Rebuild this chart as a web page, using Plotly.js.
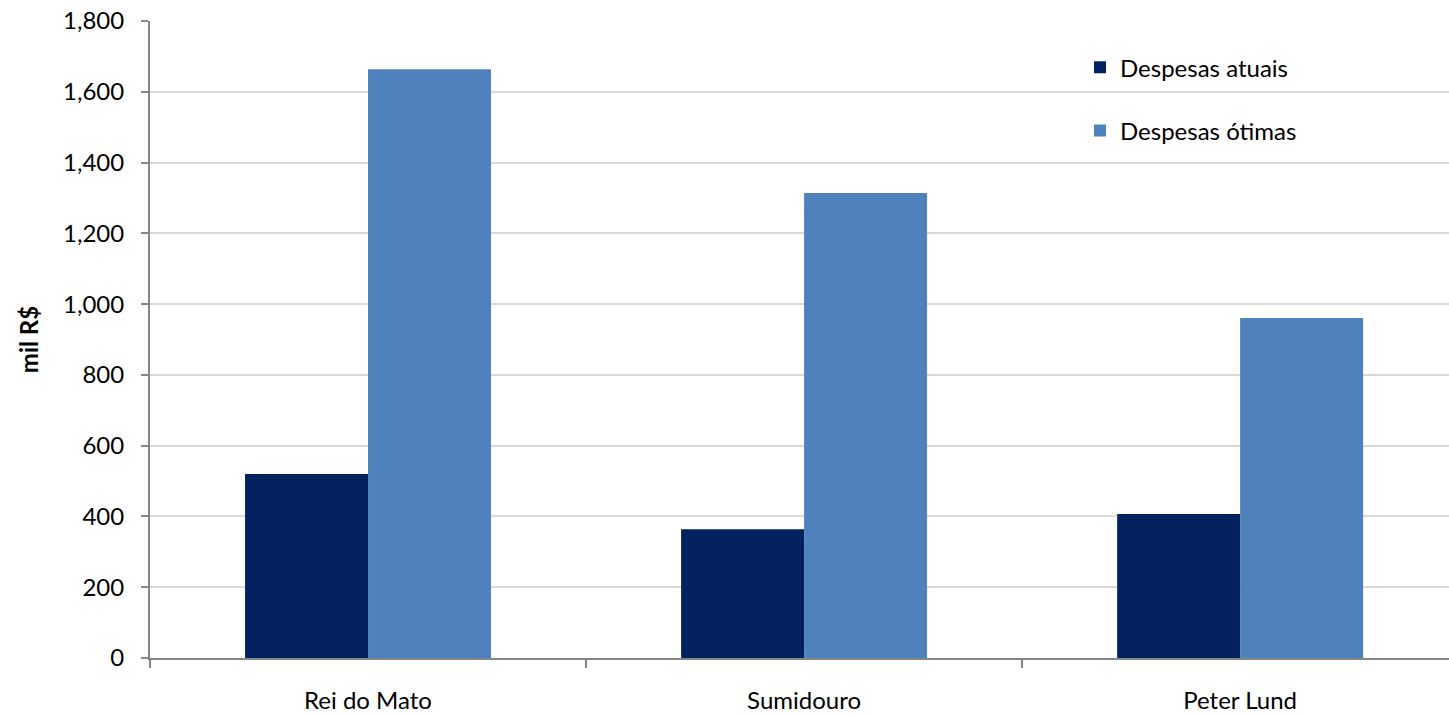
<!DOCTYPE html>
<html>
<head>
<meta charset="utf-8">
<script src="https://cdn.plot.ly/plotly-3.0.1.min.js"></script>
<style>
html,body{margin:0;padding:0;overflow:hidden;background:#fff;}
#chart{width:1449px;height:716px;}
</style>
</head>
<body>
<div id="chart"></div>
<script>
const categories = ["Rei do Mato", "Sumidouro", "Peter Lund"];
const despesasAtuais = [520, 364, 407];
const despesasOtimas = [1664, 1314, 961];
const seriesNames = ["Despesas atuais", "Despesas ótimas"];
const yTickVals = [0, 200, 400, 600, 800, 1000, 1200, 1400, 1600, 1800];
const yTickText = ["0", "200", "400", "600", "800", "1,000", "1,200", "1,400", "1,600", "1,800"];

const FONT = "Lato, 'Open Sans', 'Liberation Sans', sans-serif";

const traces = [
  {type: "bar", name: seriesNames[0], x: categories, y: despesasAtuais,
   marker: {color: "#03215F"}, legendgroup: "a"},
  {type: "bar", name: seriesNames[1], x: categories, y: despesasOtimas,
   marker: {color: "#4F81BD"}, legendgroup: "b"}
];

const layout = {
  width: 1449, height: 716,
  margin: {l: 150, r: 0, t: 21, b: 58},
  paper_bgcolor: "#ffffff", plot_bgcolor: "#ffffff",
  font: {family: FONT, size: 24, color: "#000000"},
  barmode: "group",
  bargap: 0.436,
  bargroupgap: 0,
  showlegend: true,
  legend: {xref: "paper", y: 0.962, yanchor: "top",
           font: {family: FONT, size: 24, color: "#000"},
           traceorder: "grouped", tracegroupgap: 29,
           bgcolor: "rgba(0,0,0,0)"},
  xaxis: {
    type: "category",
    range: [-0.5, 2.479],
    showgrid: false,
    showline: true, linecolor: "#868686", linewidth: 2,
    ticks: "outside", tickson: "boundaries", ticklen: 8, tickwidth: 2, tickcolor: "#868686",
    tickfont: {family: FONT, size: 24, color: "#000"},
    ticklabelstandoff: 20,
    fixedrange: true
  },
  yaxis: {
    range: [0, 1800],
    tickvals: yTickVals, ticktext: yTickText,
    showgrid: true, gridcolor: "#D9D9D9", gridwidth: 2,
    zeroline: false,
    showline: true, linecolor: "#868686", linewidth: 2,
    ticks: "outside", ticklen: 7, tickwidth: 2, tickcolor: "#868686",
    tickfont: {family: FONT, size: 24, color: "#000"},
    ticklabelstandoff: 12,
    title: {text: "<b>mil R$</b>", font: {family: FONT, size: 24, color: "#000"}, standoff: 18},
    fixedrange: true
  }
};
layout.legend.x = (1080 - 150) / 1299;

Plotly.newPlot("chart", traces, layout, {displayModeBar: false, staticPlot: true});
</script>
</body>
</html>
